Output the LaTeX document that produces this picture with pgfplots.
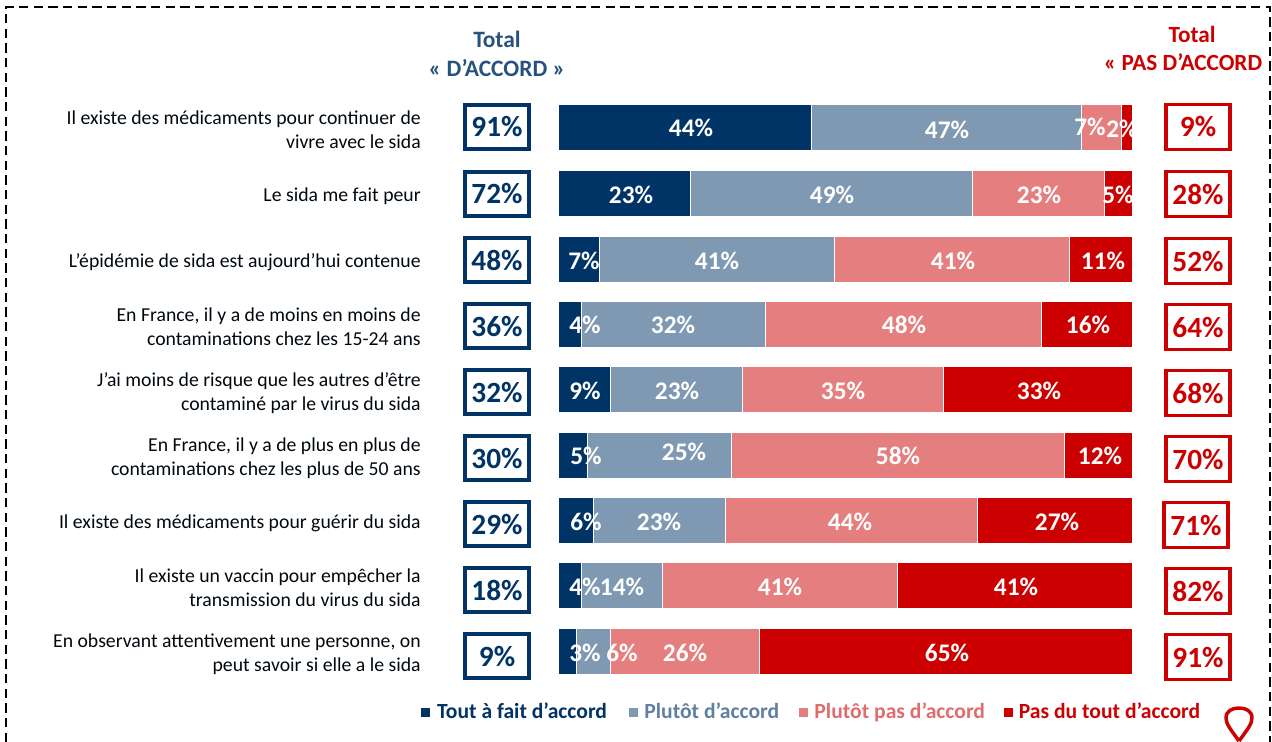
\documentclass[border=0pt]{standalone}
\usepackage{pgfplots}
\pgfplotsset{compat=1.18}
\usepackage{pgfplotstable}
\usepackage{fontspec}
\setmainfont{Carlito}
\definecolor{navy}{HTML}{003366}
\definecolor{steel}{HTML}{7F99B2}
\definecolor{pinkr}{HTML}{E57F7F}
\definecolor{redr}{HTML}{CC0000}
% y = row centre in reference pixels
\pgfplotstableread{
y a b c d
127 44 47 7 2
193 23 49 23 5
259 7 41 41 11
324 4 32 48 16
389 9 23 35 33
455 5 25 58 12
520 6 23 44 27
585 4 14 41 41
651 3 6 26 65
}\bars
% data labels: centre in pixels, value
\pgfplotstableread{
px py v
691 128 44
947 130 47
1090 127 7
1122 129 2
631 195 23
832 195 49
1039 195 23
1118 195 5
584 261 7
717 261 41
953 261 41
1103 261 11
585 325 4
673 325 32
904 325 48
1088 325 16
585 391 9
677 391 23
843 391 35
1039 391 33
586 456 5
684 452 25
898 456 58
1100 456 12
586 522 6
659 522 23
850 522 44
1057 522 27
585 587 4
622 587 14
780 587 41
1016 587 41
585 653 3
622 653 6
685 653 26
947 653 65
}\labels
% total boxes: centre in pixels, value
\pgfplotstableread{
px py v
497 127 91
497 194 72
497 260 48
497 326 36
497 392 32
497 458 30
497 524 29
497 590 18
497 656 9
}\totd
\pgfplotstableread{
px py v
1198 127 9
1198 194 28
1198 261 52
1198 327 64
1198 393 68
1198 459 70
1196 525 71
1198 591 82
1198 657 91
}\totp
\begin{document}
\begin{tikzpicture}[x=0.75pt,y=-0.75pt]
\path[use as bounding box] (0,0) rectangle (1272,742);
\begin{axis}[
  at={(0,0)},anchor=north west,
  scale only axis,width=954pt,height=556.5pt,
  xmin=-97.35,xmax=124.25,ymin=0,ymax=742,y dir=reverse,
  axis lines=none,clip=false,
  xbar stacked,bar width=34.5pt,
  legend columns=4,
  legend style={at={(axis cs:-24.2,712)},anchor=west,draw=none,fill=none,
    font=\fontsize{16.2}{18}\selectfont\bfseries,inner sep=0pt,
    /tikz/every even column/.style={column sep=0pt},
    nodes={inner sep=1pt}},
  legend cell align=left,
  legend image code/.code={\fill[#1] (0pt,-3.7pt) rectangle (7.5pt,3.7pt);},
]
\addplot[fill=navy,draw=white,line width=0.6pt] table[x=a,y=y]{\bars};
\addlegendentry{\hspace{3.6pt}\textcolor{navy}{Tout à fait d’accord\hspace{14.6pt}}}
\addplot[fill=steel,draw=white,line width=0.6pt] table[x=b,y=y]{\bars};
\addlegendentry{\hspace{3.4pt}\textcolor{steel!75!navy}{Plutôt d’accord\hspace{13pt}}}
\addplot[fill=pinkr,draw=white,line width=0.6pt] table[x=c,y=y]{\bars};
\addlegendentry{\hspace{3.4pt}\textcolor{pinkr!85!redr}{Plutôt pas d’accord\hspace{12.3pt}}}
\addplot[fill=redr,draw=white,line width=0.6pt] table[x=d,y=y]{\bars};
\addlegendentry{\hspace{3pt}\textcolor{redr}{Pas du tout d’accord}}
\end{axis}
\begin{axis}[
  at={(0,0)},anchor=north west,
  scale only axis,width=954pt,height=556.5pt,
  xmin=0,xmax=1272,ymin=0,ymax=742,y dir=reverse,
  axis lines=none,clip=false,
  point meta=explicit,
  nodes near coords={\pgfmathprintnumber[int detect,assume math mode=true]{\pgfplotspointmeta}\%},
]
\addplot[only marks,mark=none,forget plot,
  every node near coord/.style={anchor=center,text=white,inner sep=0pt,
    font=\fontsize{19}{20}\selectfont\bfseries}]
  table[x=px,y=py,meta=v]{\labels};
\addplot[only marks,mark=none,forget plot,
  every node near coord/.style={anchor=center,text=navy,draw=navy,line width=2.4pt,
    minimum width=48pt,minimum height=33pt,inner sep=0pt,
    font=\fontsize{22}{22}\selectfont\bfseries}]
  table[x=px,y=py,meta=v]{\totd};
\addplot[only marks,mark=none,forget plot,
  every node near coord/.style={anchor=center,text=redr,draw=redr,line width=2.4pt,
    minimum width=48pt,minimum height=34pt,inner sep=0pt,
    font=\fontsize{22}{22}\selectfont\bfseries}]
  table[x=px,y=py,meta=v]{\totp};
\end{axis}
% frame
\draw[black,line width=1pt,dash pattern=on 7pt off 4pt] (6,742)--(6,7)--(1270,7)--(1270,742);
% headers
\node[text=navy!85!white,font=\fontsize{17.6}{21.5}\selectfont\bfseries,align=center,anchor=center] at (497,54) {Total\\« D’ACCORD »};
\node[text=redr,font=\fontsize{17.4}{21.5}\selectfont\bfseries,anchor=center] at (1192,34) {Total};
\node[text=redr,font=\fontsize{17.4}{21.5}\selectfont\bfseries,anchor=center] at (1183,62) {« PAS D’ACCORD};
% categories
\tikzset{cat/.style={anchor=east,align=right,inner sep=0pt,text=black!85!navy,font=\fontsize{14.8}{18.2}\selectfont}}
\node[cat] at (421,130) {Il existe des médicaments pour continuer de\\vivre avec le sida};
\node[cat] at (421,196) {Le sida me fait peur};
\node[cat] at (421,262) {L’épidémie de sida est aujourd’hui contenue};
\node[cat] at (421,327) {En France, il y a de moins en moins de\\contaminations chez les 15-24 ans};
\node[cat] at (421,393) {J’ai moins de risque que les autres d’être\\contaminé par le virus du sida};
\node[cat] at (421,458) {En France, il y a de plus en plus de\\contaminations chez les plus de 50 ans};
\node[cat] at (421,523) {Il existe des médicaments pour guérir du sida};
\node[cat] at (421,588) {Il existe un vaccin pour empêcher la\\transmission du virus du sida};
\node[cat] at (421,654) {En observant attentivement une personne, on\\peut savoir si elle a le sida};
% logo
\draw[redr,line width=2.6pt,line join=round] (1239,741) .. controls (1231,730) and (1226,724) .. (1226,718) .. controls (1226,711) and (1232,708) .. (1239,708) .. controls (1246,708) and (1252,711) .. (1252,718) .. controls (1252,724) and (1247,730) .. (1239,741);
\end{tikzpicture}
\end{document}
